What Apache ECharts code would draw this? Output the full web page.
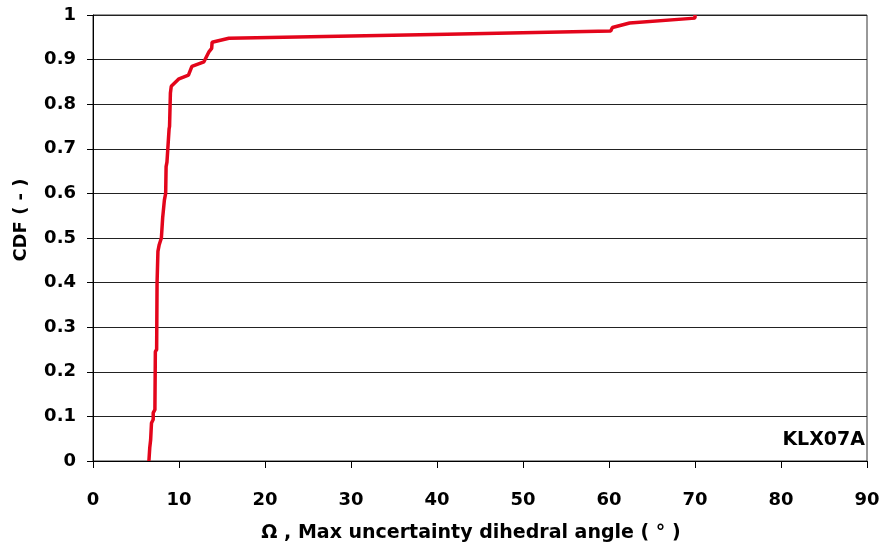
<!DOCTYPE html>
<html>
<head>
<meta charset="utf-8">
<script src="https://cdn.jsdelivr.net/npm/echarts@6/dist/echarts.min.js"></script>
<style>
  html, body { margin: 0; padding: 0; background: #fff; }
  #chart { width: 881px; height: 553px; }
</style>
</head>
<body>
<div id="chart"></div>
<script>
// Maximum uncertainty dihedral angle (degrees) and its cumulative distribution
const angleValues = [6.5, 6.6, 6.7, 6.8, 6.8, 7.0, 7.0, 7.2, 7.2, 7.25, 7.4, 7.45, 7.55, 7.7, 7.95, 8.05, 8.1, 8.3, 8.45, 8.5, 8.6, 8.85, 8.9, 9.0, 9.1, 10.0, 11.1, 11.5, 12.9, 13.5, 13.8, 13.85, 15.8, 41.2, 60.2, 60.4, 62.4, 70.0, 70.0];
const cdfValues   = [0.0, 0.03, 0.047, 0.05, 0.085, 0.093, 0.108, 0.115, 0.12, 0.245, 0.25, 0.40, 0.47, 0.485, 0.50, 0.53, 0.545, 0.585, 0.60, 0.66, 0.67, 0.745, 0.75, 0.825, 0.84, 0.857, 0.865, 0.885, 0.895, 0.918, 0.925, 0.939, 0.948, 0.957, 0.964, 0.972, 0.982, 0.993, 1.0];
const boreholeName = 'KLX07A';
const xAxisTitle = 'Ω , Max uncertainty dihedral angle ( ° )';
const yAxisTitle = 'CDF ( - )';

const chart = echarts.init(document.getElementById('chart'));
const fontFamily = '"DejaVu Sans", "Liberation Sans", Arial, sans-serif';

chart.setOption({
  animation: false,
  grid: {
    left: 93, right: 14, top: 15, bottom: 92,
    containLabel: false, outerBoundsMode: 'none',
    show: true, borderColor: '#333', borderWidth: 1, backgroundColor: '#fff'
  },
  xAxis: {
    type: 'value', min: 0, max: 90, interval: 10,
    name: xAxisTitle, nameLocation: 'middle', nameGap: 63,
    nameTextStyle: {
      fontFamily, fontSize: 19, fontWeight: 'bold', color: '#000',
      padding: [0, 18, 0, 0]
    },
    axisLine: { show: true, lineStyle: { color: '#000', width: 1 } },
    axisTick: { show: true, inside: false, length: 7, lineStyle: { color: '#000' } },
    axisLabel: { fontFamily, fontSize: 18, fontWeight: 'bold', color: '#000', margin: 30 },
    splitLine: { show: false }
  },
  yAxis: {
    type: 'value', min: 0, max: 1, interval: 0.1,
    name: yAxisTitle, nameLocation: 'middle', nameGap: 63, nameRotate: 90,
    nameTextStyle: {
      fontFamily, fontSize: 18, fontWeight: 'bold', color: '#000',
      padding: [0, 0, 0, 36]
    },
    axisLine: { show: true, lineStyle: { color: '#000', width: 1 } },
    axisTick: { show: true, inside: false, length: 6, lineStyle: { color: '#000' } },
    axisLabel: { fontFamily, fontSize: 18, fontWeight: 'bold', color: '#000', margin: 17 },
    splitLine: { show: true, lineStyle: { color: '#222', width: 1 } }
  },
  graphic: [{
    type: 'text', x: 865, y: 440,
    style: {
      text: boreholeName, fontFamily, fontSize: 19, fontWeight: 'bold', fill: '#000',
      align: 'right', verticalAlign: 'middle'
    }
  }],
  series: [{
    type: 'line',
    data: angleValues.map((v, i) => [v, cdfValues[i]]),
    showSymbol: false,
    lineStyle: { color: '#e3051b', width: 3.5 },
    itemStyle: { color: '#e3051b' }
  }]
});
</script>
</body>
</html>
